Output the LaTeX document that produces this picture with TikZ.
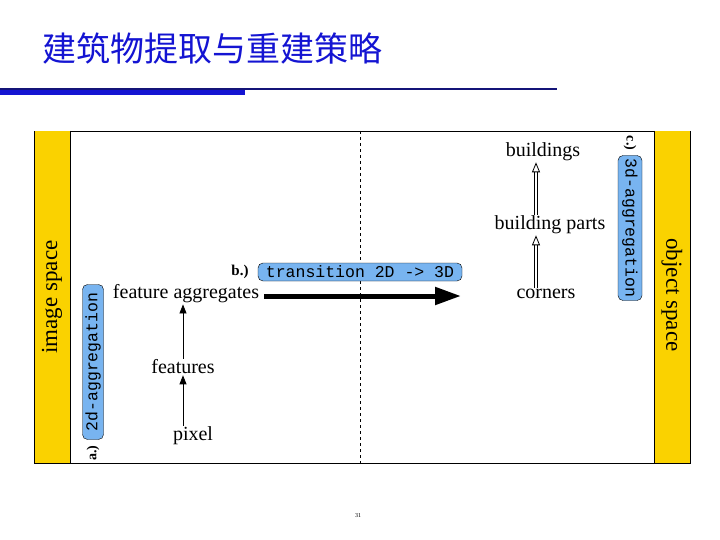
\documentclass[tikz,border=0pt]{standalone}
\usepackage{fontspec}
\setmainfont{Liberation Serif}
\setmonofont{Liberation Mono}
\newfontfamily\cjk{Noto Sans CJK SC}
\usetikzlibrary{arrows.meta}
\definecolor{ttlblue}{RGB}{20,20,210}
\definecolor{navy}{RGB}{20,20,120}
\definecolor{strip}{RGB}{250,210,0}
\definecolor{boxblue}{RGB}{120,180,240}
\tikzset{
  lbl/.style={font=\fontsize{20}{22}\selectfont, inner sep=1pt},
  tag/.style={draw=black, fill=boxblue, rounded corners=5pt, font=\ttfamily\fontsize{16.5}{17}\selectfont, inner sep=1pt},
  thin arrow/.style={-{Triangle[length=9pt,width=7pt]}, line width=0.8pt},
  dbl arrow/.style={double, double distance=2.5pt, line width=0.8pt, -{Triangle[open,length=10pt,width=8pt]}},
}
\begin{document}
\begin{tikzpicture}[x=1pt,y=-1pt]
\useasboundingbox (0,0) rectangle (720,540);
\node[text=ttlblue, font=\cjk\fontsize{34}{38}\selectfont, anchor=west, inner sep=0pt] (title) at (42,48) {建筑物提取与重建策略};
\draw[navy, line width=1.2pt] (0,89) -- (557,89);
\draw[ttlblue, line width=5pt] (0,93) -- (245,93);
\draw[black, line width=0.8pt, fill=white] (34,131) rectangle (690,463);
\fill[strip] (34.5,131.5) rectangle (70,462.5);
\fill[strip] (654,131.5) rectangle (689.5,462.5);
\draw[line width=0.8pt] (70,131) -- (70,463) (654,131) -- (654,463);
\draw[dashed, line width=0.5pt] (360,131) -- (360,463);
\node[lbl, rotate=90, font=\fontsize{23}{25}\selectfont] (img) at (52,297) {image space};
\node[lbl, rotate=-90, font=\fontsize{23}{25}\selectfont] (obj) at (672,295) {object space};
\node[tag, rotate=90, minimum width=155pt, minimum height=21pt] (agg2) at (93,362) {2d-aggregation};
\node[lbl, rotate=90, font=\bfseries\fontsize{14}{16}\selectfont] (a) at (93,453) {a.)};
\node[lbl] (fa) at (186,294) {feature aggregates};
\node[lbl] (f) at (183,367) {features};
\node[lbl] (p) at (193,436) {pixel};
\draw[thin arrow] (p.north -| f) -- (f.south);
\draw[thin arrow] (f.north) -- (fa.south -| f);
\node[lbl, font=\bfseries\fontsize{15}{17}\selectfont] (b) at (240,272) {b.)};
\node[tag, minimum width=204pt, minimum height=18pt] (tr) at (360,272) {transition 2D -> 3D};
\coordinate (bs) at (264,296);
\node[lbl] (c1) at (546,294) {corners};
\node[lbl] (bp) at (550,225) {building parts};
\node[lbl] (bu) at (543,152) {buildings};
\draw[line width=5pt, -{Triangle[length=26pt,width=17pt]}] (bs) -- (461,296);
\draw[dbl arrow] (c1.north -| 536,0) -- (bp.south -| 536,0);
\draw[dbl arrow] (bp.north -| 536,0) -- (bu.south -| 536,0);
\node[tag, rotate=-90, minimum width=145pt, minimum height=24pt] (agg3) at (630,228) {3d-aggregation};
\node[lbl, rotate=-90, font=\bfseries\fontsize{14}{16}\selectfont] (c) at (630,143) {c.)};
\node[font=\fontsize{6}{7}\selectfont] (pg) at (358,516) {31};
\end{tikzpicture}
\end{document}
